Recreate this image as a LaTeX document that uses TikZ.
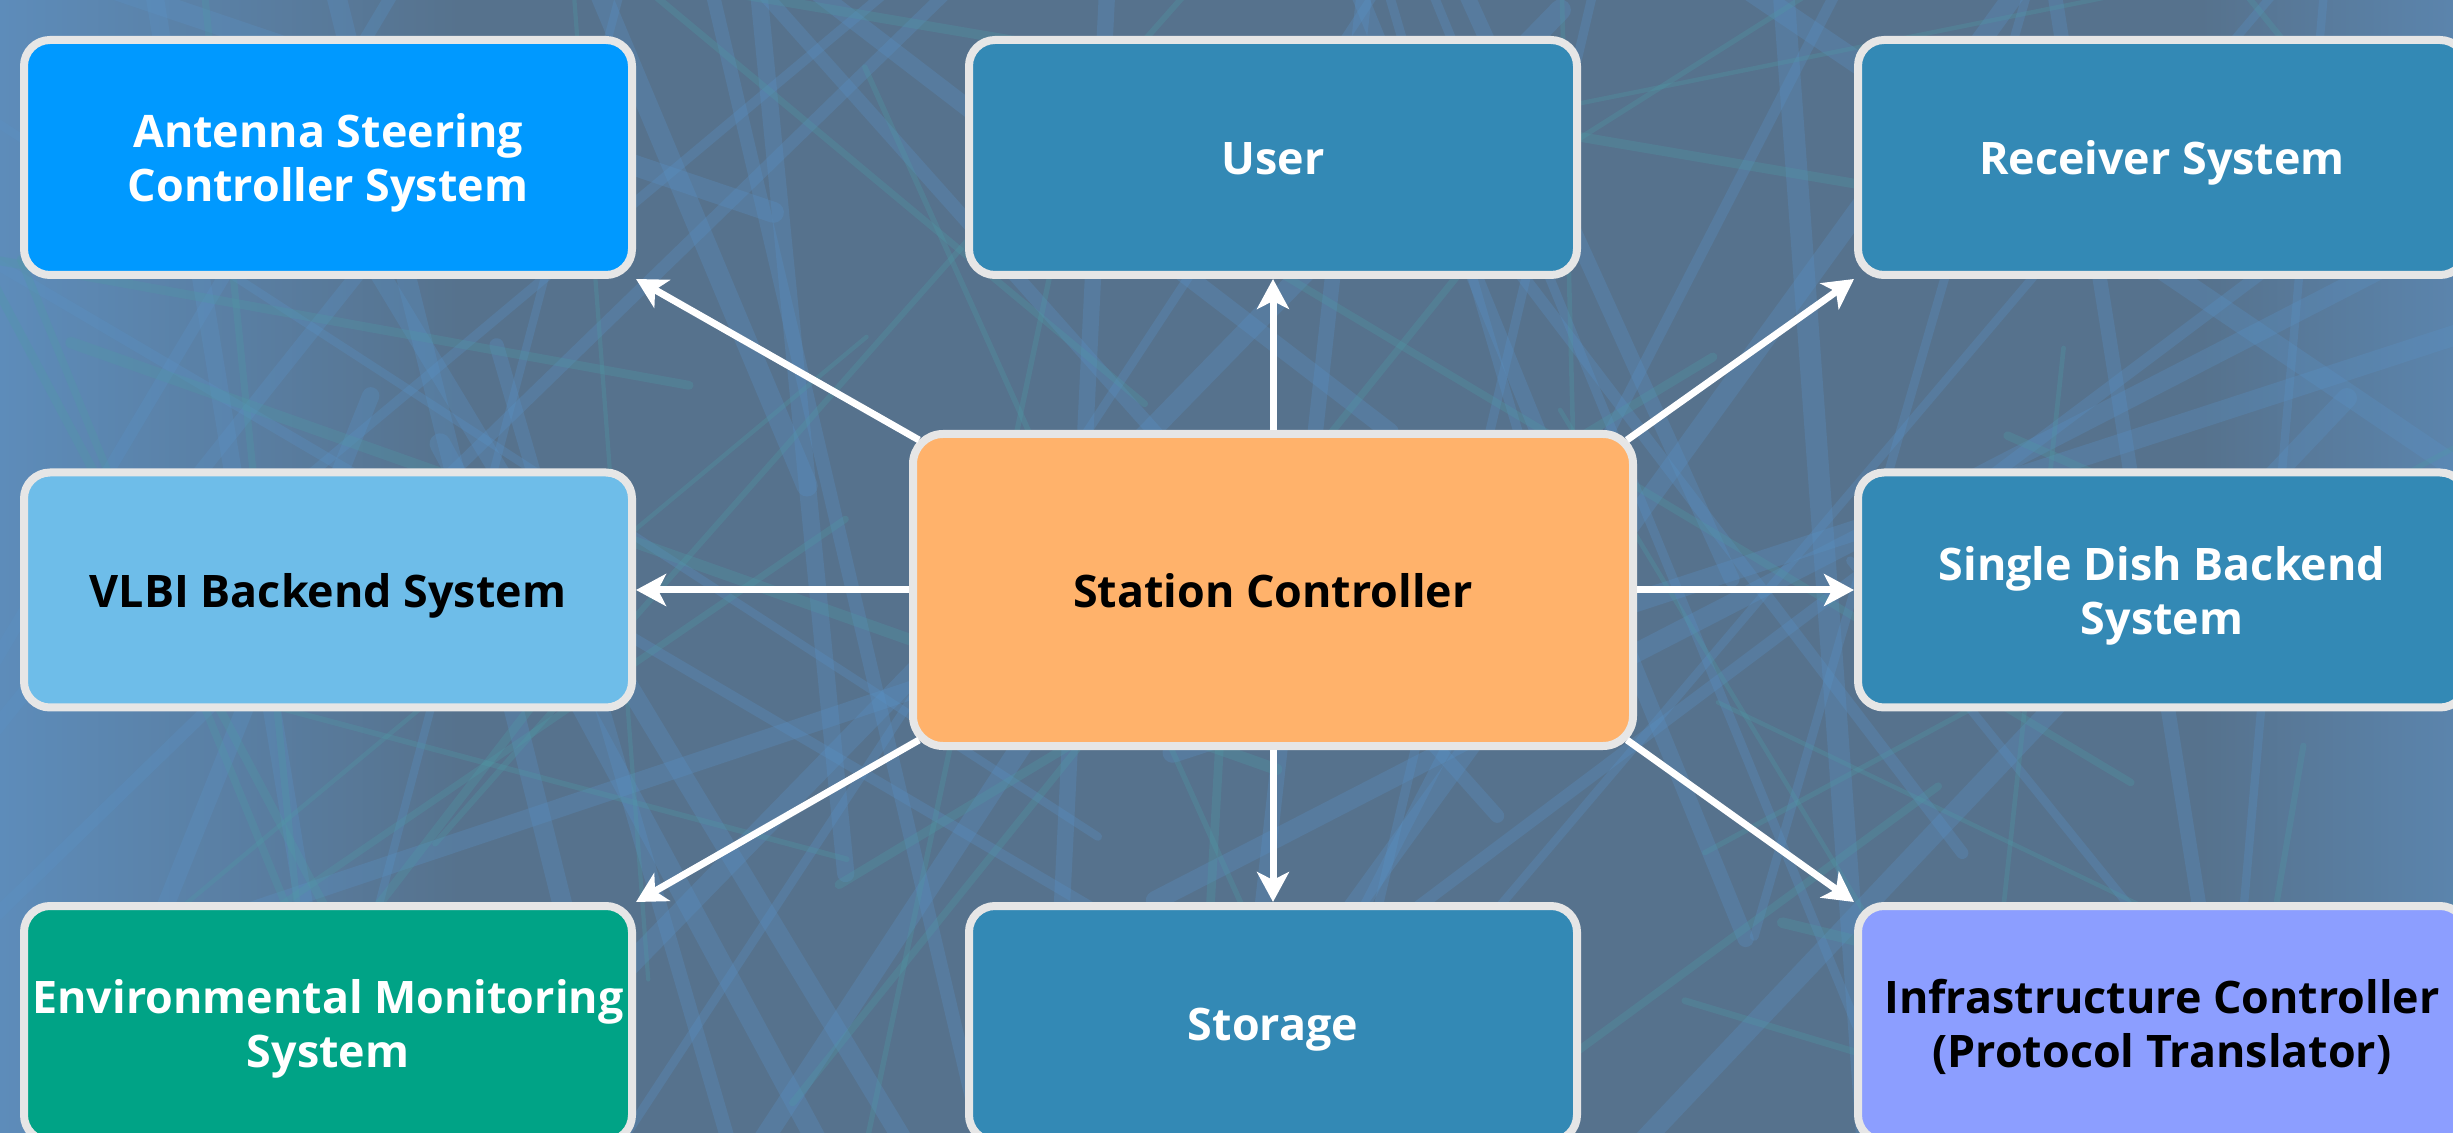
\documentclass[tikz,border=0pt]{standalone}
\usepackage{fontspec}
\setmainfont{Open Sans}
\usetikzlibrary{arrows.meta,calc}

\definecolor{bgbase}{HTML}{56728D}
\definecolor{bgleft}{HTML}{5D8CBA}
\definecolor{barblue}{HTML}{5A92C6}
\definecolor{barteal}{HTML}{4F9AA6}
\definecolor{frame}{HTML}{E6E6E6}
\definecolor{antenna}{HTML}{0099FF}
\definecolor{steel}{HTML}{3389B5}
\definecolor{vlbi}{HTML}{6EBDE9}
\definecolor{station}{HTML}{FFB26B}
\definecolor{envgreen}{HTML}{00A386}
\definecolor{infra}{HTML}{8C9EFF}

\tikzset{
  % text boxes get fixed line metrics so every label sits at the same optical centre
  sysbox/.style={draw=frame, line width=4pt, rounded corners=13pt,
    minimum width=304pt, minimum height=117.5pt, inner sep=0pt,
    align=center, font=\fontsize{22.4}{27}\selectfont\bfseries,
    text height=21.9pt, text depth=4.5pt},
  twolines/.style={text height=48.9pt},
  hubbox/.style={sysbox, fill=station, text=black, rounded corners=15pt,
    minimum width=360pt, minimum height=156pt},
  flow/.style={draw=white, line width=3.5pt,
    -{Stealth[length=15pt,width=16pt,inset=4pt]}},
  strut/.style={line cap=round},
}

\begin{document}
\begin{tikzpicture}[x=0.5pt,y=-0.5pt]
  \useasboundingbox (0,0) rectangle (2453,1133);
  \clip (0,0) rectangle (2453,1133);

  % backdrop: blue-grey sky behind a steel lattice
  \fill[bgbase] (0,0) rectangle (2453,1133);
  \shade[left color=bgleft, right color=bgbase] (0,0) rectangle (460,1133);
  \shade[left color=bgbase, right color=bgleft!70!bgbase] (2200,0) rectangle (2453,1133);

  \pgfmathsetseed{31}
  \foreach \i in {1,...,46}{
    \pgfmathsetmacro{\cx}{rnd*2600-70}
    \pgfmathsetmacro{\cy}{rnd*1250-60}
    \pgfmathsetmacro{\ang}{15+rnd*150}
    \pgfmathsetmacro{\len}{450+rnd*900}
    \pgfmathsetmacro{\wd}{4+rnd*7}
    \pgfmathsetmacro{\xa}{\cx-\len*cos(\ang)}
    \pgfmathsetmacro{\ya}{\cy-\len*sin(\ang)}
    \pgfmathsetmacro{\xb}{\cx+\len*cos(\ang)}
    \pgfmathsetmacro{\yb}{\cy+\len*sin(\ang)}
    \draw[strut, barblue, opacity=0.3, line width=\wd pt] (\xa,\ya) -- (\xb,\yb);
  }
  \foreach \i in {1,...,34}{
    \pgfmathsetmacro{\cx}{rnd*2600-70}
    \pgfmathsetmacro{\cy}{rnd*1250-60}
    \pgfmathsetmacro{\ang}{rnd*180}
    \pgfmathsetmacro{\len}{250+rnd*600}
    \pgfmathsetmacro{\wd}{2+rnd*4}
    \pgfmathsetmacro{\xa}{\cx-\len*cos(\ang)}
    \pgfmathsetmacro{\ya}{\cy-\len*sin(\ang)}
    \pgfmathsetmacro{\xb}{\cx+\len*cos(\ang)}
    \pgfmathsetmacro{\yb}{\cy+\len*sin(\ang)}
    \draw[strut, barteal, opacity=0.3, line width=\wd pt] (\xa,\ya) -- (\xb,\yb);
  }

  % system boxes
  \node[sysbox, twolines, fill=antenna, text=white] (ant) at (328,157.5) {Antenna Steering\\Controller System};
  \node[sysbox, fill=steel, text=white] (usr) at (1273,157.5) {User};
  \node[sysbox, fill=steel, text=white] (rcv) at (2162,157.5) {Receiver System};
  \node[sysbox, fill=vlbi, text=black] (vlbi) at (328,590) {VLBI Backend System};
  \node[hubbox] (sc) at (1273,590) {Station Controller};
  \node[sysbox, twolines, fill=steel, text=white] (sdb) at (2162,590) {Single Dish Backend\\System};
  \node[sysbox, twolines, fill=envgreen, text=white] (env) at (328,1023.5) {Environmental Monitoring\\System};
  \node[sysbox, fill=steel, text=white] (sto) at (1273,1023.5) {Storage};
  \node[sysbox, twolines, fill=infra, text=black] (inf) at (2162,1023.5) {Infrastructure Controller\\(Protocol Translator)};

  % exit points on the rounded corners of the hub
  \coordinate (scNW) at ($(sc.north west)+(10,10)$);
  \coordinate (scNE) at ($(sc.north east)+(-10,10)$);
  \coordinate (scSW) at ($(sc.south west)+(10,-10)$);
  \coordinate (scSE) at ($(sc.south east)+(-10,-10)$);

  % connectors
  \draw[flow] (sc.north) -- (usr.south);
  \draw[flow] (sc.south) -- (sto.north);
  \draw[flow] (sc.west) -- (vlbi.east);
  \draw[flow] (sc.east) -- (sdb.west);
  \draw[flow] (scNW) -- (ant.south east);
  \draw[flow] (scNE) -- (rcv.south west);
  \draw[flow] (scSW) -- (env.north east);
  \draw[flow] (scSE) -- (inf.north west);
\end{tikzpicture}
\end{document}
